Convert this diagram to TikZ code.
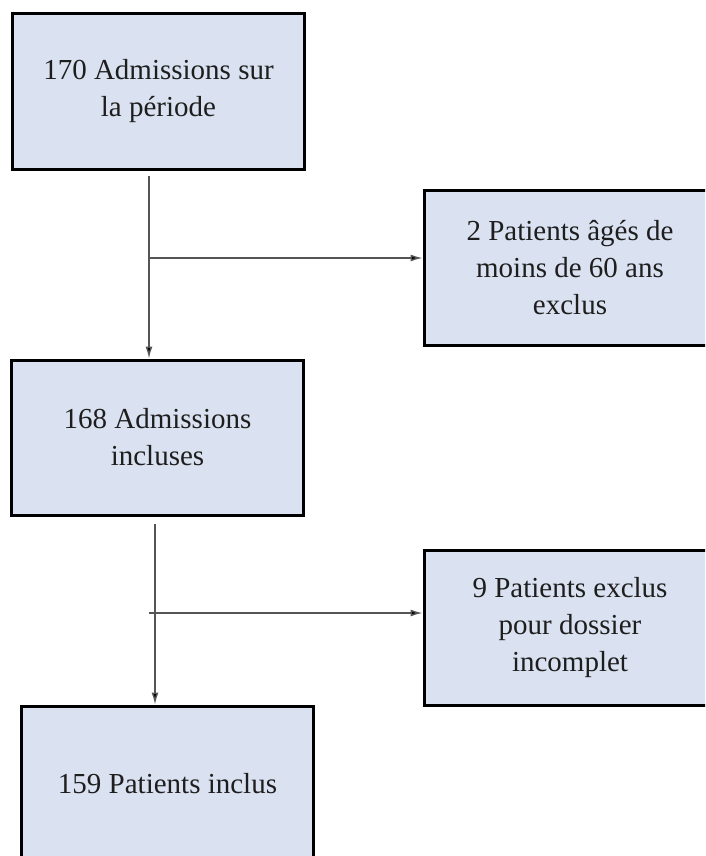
\documentclass[tikz,border=0pt]{standalone}
\usepackage{fontspec}
\setmainfont{Liberation Serif}
\usetikzlibrary{arrows.meta}

\definecolor{bleu}{RGB}{218,226,241}
\definecolor{gris}{RGB}{85,85,85}
\definecolor{encre}{RGB}{30,30,30}

\begin{document}
\begin{tikzpicture}[x=1pt,y=-1pt,
    boite/.style={draw=black, line width=3pt, fill=bleu, text=encre,
      minimum width=292pt, minimum height=155pt, inner sep=0pt,
      align=center, font=\fontsize{29}{37}\selectfont},
    fleche/.style={draw=gris, line width=1.4pt,
      -{Latex[length=12pt,width=7pt,fill=black]}}]
      \useasboundingbox (0,0) rectangle (705,856);
      \clip             (0,0) rectangle (705,856);
      % les boites
      \node[boite] (adm1)  at (158.5,91.5)  {170 Admissions sur\\la période};
      \node[boite] (excl1) at (570,268)     {2 Patients âgés de\\moins de 60 ans\\exclus};
      \node[boite] (adm2)  at (157.5,437.5) {168 Admissions\\incluses};
      \node[boite] (excl2) at (570,627.5)   {9 Patients exclus\\pour dossier\\incomplet};
      \node[boite] (incl)  at (167.5,783.5) {159 Patients inclus};
      % les fleches
      \coordinate  (d1) at (149,176);
      \coordinate  (b1) at (149,258);
      \coordinate  (d2) at (155,524);
      \coordinate  (b2) at (149,613);
      \draw[fleche] (d1) -- (d1 |- adm2.north);
      \draw[fleche] (b1) -- (b1 -| excl1.west);
      \draw[fleche] (d2) -- (d2 |- incl.north);
      \draw[fleche] (b2) -- (b2 -| excl2.west);
    \end{tikzpicture}
\end{document}
